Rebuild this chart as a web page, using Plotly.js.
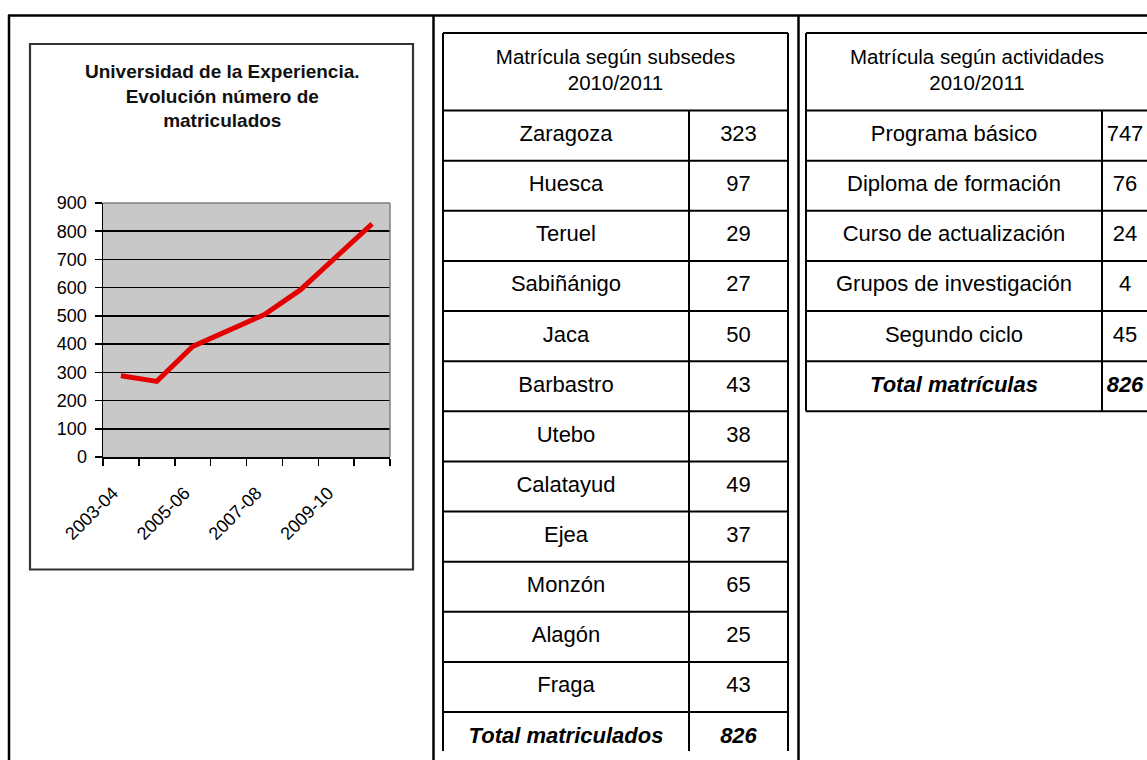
<!DOCTYPE html>
<html>
<head>
<meta charset="utf-8">
<script src="https://cdn.plot.ly/plotly-3.0.1.min.js"></script>
<style>html,body{margin:0;padding:0;background:#fff;}#chart{width:1147px;height:760px;}</style>
</head>
<body>
<div id="chart"></div>
<script>
// ---------- data ----------
const seasons = ['2003-04','2004-05','2005-06','2006-07','2007-08','2008-09','2009-10','2010-11'];
const enrolled = [288, 268, 392, 447, 505, 592, 710, 826];
const chartTitle = 'Universidad de la Experiencia.<br>Evolución número de<br>matriculados';

const subsedeTitle = 'Matrícula según subsedes<br>2010/2011';
const subsedes = ['Zaragoza','Huesca','Teruel','Sabiñánigo','Jaca','Barbastro','Utebo','Calatayud','Ejea','Monzón','Alagón','Fraga'];
const subsedeValues = [323, 97, 29, 27, 50, 43, 38, 49, 37, 65, 25, 43];
const subsedeTotalLabel = 'Total matriculados';
const subsedeTotal = 826;

const activityTitle = 'Matrícula según actividades<br>2010/2011';
const activities = ['Programa básico','Diploma de formación','Curso de actualización','Grupos de investigación','Segundo ciclo'];
const activityValues = [747, 76, 24, 4, 45];
const activityTotalLabel = 'Total matrículas';
const activityTotal = 826;

// ---------- geometry / style ----------
const W = 1147, H = 760;
const px = v => v / W;           // paper x from pixel
const py = v => 1 - v / H;       // paper y from pixel
const ROW_PX = 50.125, ROW0_PX = 110.5, HEAD_TOP_PX = 33;
const headTop = -(ROW0_PX - HEAD_TOP_PX) / ROW_PX;
const tableFont = {family: '"Liberation Sans Narrow", "Arial Narrow", "Liberation Sans", sans-serif', size: 22, color: '#000'};
const headFont = Object.assign({}, tableFont, {size: 20.5});
const lineStyle = {color: '#000', width: 2};

// table 1 (x2): px 443..788, divider 689
const t1 = {left: 443, right: 788, split: 689};
const pad1 = 0.02;
const t1w = t1.right - t1.left;
const t1Split = (t1.split - t1.left) / t1w;
// table 2 (x3): px 806..1148, divider 1102
const t2 = {left: 806, right: 1148, split: 1102};
const t2w = W - t2.left;
const t2Right = (t2.right - t2.left) / t2w;
const t2Split = (t2.split - t2.left) / t2w;

function tableShapes(xref, right, split, nRows, bottom, closed) {
  const s = [];
  const L = (x0, y0, x1, y1) => s.push({type: 'line', xref: xref, yref: 'y2', x0, y0, x1, y1, line: lineStyle});
  L(0, headTop, right, headTop);
  for (let i = 0; i <= nRows; i++) {
    if (i < nRows || closed) L(0, i, right, i);
  }
  L(0, headTop, 0, bottom);
  L(right, headTop, right, bottom);
  L(split, 0, split, bottom);
  return s;
}

function rowIdx(n) { return Array.from({length: n}, (_, i) => i + 0.5); }
const textTrace = (xa, xs, ys, texts, font) => ({
  type: 'scatter', mode: 'text', xaxis: xa, yaxis: 'y2', x: xs, y: ys, text: texts,
  textposition: 'middle center', textfont: font, cliponaxis: false, hoverinfo: 'skip', showlegend: false
});
const bi = s => '<b><i>' + s + '</i></b>';

const seasonIdx = seasons.map((_, i) => i);
const boundaries = seasons.map((_, i) => i - 0.5).concat([seasons.length - 0.5]);
const labelIdx = seasonIdx.filter(i => i % 2 === 0);

const traces = [
  {
    type: 'scatter', mode: 'lines', x: seasonIdx, y: enrolled, text: seasons,
    line: {color: '#e40000', width: 5}, hoverinfo: 'text+y', showlegend: false
  },
  // invisible companion so the label axis is drawn
  {
    type: 'scatter', mode: 'markers', xaxis: 'x4', yaxis: 'y',
    x: labelIdx, y: labelIdx.map(i => enrolled[i]),
    marker: {opacity: 0, size: 1}, hoverinfo: 'skip', showlegend: false
  },
  // table 1
  textTrace('x2', subsedes.map(() => t1Split / 2).concat([t1Split / 2]),
    rowIdx(subsedes.length).concat([subsedes.length + 0.5]),
    subsedes.concat([bi(subsedeTotalLabel)]), tableFont),
  textTrace('x2', subsedeValues.map(() => (t1Split + 1) / 2).concat([(t1Split + 1) / 2]),
    rowIdx(subsedeValues.length).concat([subsedeValues.length + 0.5]),
    subsedeValues.map(String).concat([bi(subsedeTotal)]), tableFont),
  textTrace('x2', [0.5], [headTop / 2], [subsedeTitle], headFont),
  // table 2
  textTrace('x3', activities.map(() => t2Split / 2).concat([t2Split / 2]),
    rowIdx(activities.length).concat([activities.length + 0.5]),
    activities.concat([bi(activityTotalLabel)]), tableFont),
  textTrace('x3', activityValues.map(() => (t2Split + t2Right) / 2).concat([(t2Split + t2Right) / 2]),
    rowIdx(activityValues.length).concat([activityValues.length + 0.5]),
    activityValues.map(String).concat([bi(activityTotal)]), tableFont),
  textTrace('x3', [t2Right / 2], [headTop / 2], [activityTitle], headFont)
];

const t1Bottom = (751 - ROW0_PX) / ROW_PX;
const nT1 = subsedes.length + 1;
const nT2 = activities.length + 1;

const shapes = []
  .concat([
    // plot area background
    {type: 'rect', xref: 'x domain', yref: 'y domain', x0: 0, x1: 1, y0: 0, y1: 1, fillcolor: '#c8c8c8', line: {width: 0}, layer: 'below'},
    // outer page frame
    {type: 'line', xref: 'paper', yref: 'paper', x0: px(8), x1: px(W + 2), y0: py(15.5), y1: py(15.5), line: {color: '#000', width: 2.5}},
    {type: 'line', xref: 'paper', yref: 'paper', x0: px(9), x1: px(9), y0: py(15), y1: py(H + 2), line: {color: '#000', width: 2.5}},
    {type: 'line', xref: 'paper', yref: 'paper', x0: px(433.5), x1: px(433.5), y0: py(15), y1: py(H + 2), line: {color: '#000', width: 2.5}},
    {type: 'line', xref: 'paper', yref: 'paper', x0: px(798.5), x1: px(798.5), y0: py(15), y1: py(H + 2), line: {color: '#000', width: 2.5}},
    // chart box
    {type: 'rect', xref: 'paper', yref: 'paper', x0: px(30), x1: px(413), y0: py(44), y1: py(569.5), line: {color: '#333', width: 2.2}},
    // plot area top/right border (gray)
    {type: 'line', xref: 'x domain', yref: 'y domain', x0: 0, x1: 1, y0: 1, y1: 1, line: {color: '#808080', width: 1.5}, layer: 'above'},
    {type: 'line', xref: 'x domain', yref: 'y domain', x0: 1, x1: 1, y0: 0, y1: 1, line: {color: '#808080', width: 1.5}, layer: 'above'}
  ])
  .concat(tableShapes('x2', 1, t1Split, nT1, t1Bottom, false))
  .concat(tableShapes('x3', t2Right, t2Split, nT2, nT2, true));

const chartFont = {family: '"Liberation Sans", Arial, sans-serif', size: 18, color: '#000'};
const xRange = [-0.5, seasons.length - 0.5];

const layout = {
  width: W, height: H,
  margin: {l: 0, r: 0, t: 0, b: 0},
  paper_bgcolor: '#fff',
  plot_bgcolor: 'rgba(0,0,0,0)',
  showlegend: false,
  font: chartFont,
  xaxis: {
    domain: [px(103), px(390)],
    range: xRange,
    tickmode: 'array',
    tickvals: boundaries,
    ticktext: boundaries.map(() => ''),
    ticks: 'outside', ticklen: 7, tickwidth: 1.5, tickcolor: '#000',
    showline: true, linecolor: '#000', linewidth: 1.5,
    showgrid: false, zeroline: false,
    fixedrange: true
  },
  xaxis4: {
    overlaying: 'x', anchor: 'y', side: 'bottom',
    range: xRange,
    tickmode: 'array',
    tickvals: labelIdx,
    ticktext: labelIdx.map(i => seasons[i]),
    ticks: '', showline: false, showgrid: false, zeroline: false,
    tickangle: -45,
    ticklabelstandoff: 21,
    ticklabelshift: -8,
    tickfont: chartFont,
    fixedrange: true
  },
  yaxis: {
    domain: [py(457), py(203)],
    range: [0, 900],
    dtick: 100,
    ticks: 'outside', ticklen: 7, tickwidth: 1.5, tickcolor: '#000',
    ticklabelstandoff: 4,
    showline: true, linecolor: '#000', linewidth: 1.5,
    showgrid: true, gridcolor: '#000', gridwidth: 1.5,
    zeroline: false,
    tickfont: chartFont,
    fixedrange: true
  },
  xaxis2: {
    domain: [px(t1.left - pad1 * t1w), px(t1.right + pad1 * t1w)],
    range: [-pad1, 1 + pad1], visible: false, fixedrange: true, anchor: 'y2', showgrid: false
  },
  xaxis3: {
    domain: [px(t2.left - 4), 1],
    range: [-4 / t2w, 1], visible: false, fixedrange: true, anchor: 'y2', showgrid: false
  },
  yaxis2: {
    domain: [0, 1],
    range: [(H - ROW0_PX) / ROW_PX, -ROW0_PX / ROW_PX],
    visible: false, fixedrange: true, anchor: 'x2', showgrid: false
  },
  annotations: [{
    xref: 'paper', yref: 'paper', x: px(222), y: py(96),
    xanchor: 'center', yanchor: 'middle', showarrow: false,
    text: '<b>' + chartTitle + '</b>',
    font: {family: '"Liberation Sans", Arial, sans-serif', size: 19, color: '#111'},
    align: 'center'
  }],
  shapes: shapes
};

Plotly.newPlot('chart', traces, layout, {displayModeBar: false, staticPlot: true});
</script>
</body>
</html>
